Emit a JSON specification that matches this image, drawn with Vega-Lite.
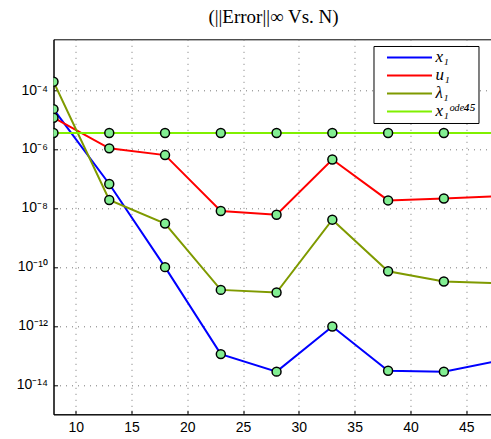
{
  "$schema": "https://vega.github.io/schema/vega-lite/v6.json",
  "autosize": "none",
  "width": 440,
  "height": 375,
  "padding": {"left": 53.5, "top": 39.3, "right": 0, "bottom": 25},
  "background": "white",
  "title": {
    "text": "(||Error||∞ Vs. N)",
    "font": "Liberation Serif",
    "fontSize": 19,
    "fontWeight": "normal",
    "color": "black",
    "anchor": "middle",
    "offset": 12
  },
  "config": {
    "view": {"stroke": "black", "strokeWidth": 1},
    "axis": {
      "domainColor": "black",
      "domainWidth": 1,
      "tickColor": "black",
      "tickSize": -4,
      "labelColor": "black",
      "labelFont": "Liberation Sans",
      "labelFontSize": 14,
      "grid": true,
      "gridColor": "#777",
      "gridDash": [1, 5],
      "gridWidth": 1,
      "title": null
    }
  },
  "data": {
    "values": [
      {"N": 8, "series": "x1", "err": 2.24e-5},
      {"N": 13, "series": "x1", "err": 6.5e-8},
      {"N": 18, "series": "x1", "err": 9.8e-11},
      {"N": 23, "series": "x1", "err": 1.1e-13},
      {"N": 28, "series": "x1", "err": 2.8e-14},
      {"N": 33, "series": "x1", "err": 9.5e-13},
      {"N": 38, "series": "x1", "err": 3.0e-14},
      {"N": 43, "series": "x1", "err": 2.8e-14},
      {"N": 48, "series": "x1", "err": 6.6e-14},
      {"N": 8, "series": "u1", "err": 1.15e-5},
      {"N": 13, "series": "u1", "err": 1.05e-6},
      {"N": 18, "series": "u1", "err": 6.2e-7},
      {"N": 23, "series": "u1", "err": 7.9e-9},
      {"N": 28, "series": "u1", "err": 5.9e-9},
      {"N": 33, "series": "u1", "err": 4.4e-7},
      {"N": 38, "series": "u1", "err": 1.8e-8},
      {"N": 43, "series": "u1", "err": 2.1e-8},
      {"N": 48, "series": "u1", "err": 2.5e-8},
      {"N": 8, "series": "lambda1", "err": 1.9e-4},
      {"N": 13, "series": "lambda1", "err": 1.86e-8},
      {"N": 18, "series": "lambda1", "err": 2.95e-9},
      {"N": 23, "series": "lambda1", "err": 1.66e-11},
      {"N": 28, "series": "lambda1", "err": 1.35e-11},
      {"N": 33, "series": "lambda1", "err": 4.0e-9},
      {"N": 38, "series": "lambda1", "err": 7.1e-11},
      {"N": 43, "series": "lambda1", "err": 3.2e-11},
      {"N": 48, "series": "lambda1", "err": 2.75e-11},
      {"N": 8, "series": "ode45", "err": 3.47e-6},
      {"N": 13, "series": "ode45", "err": 3.47e-6},
      {"N": 18, "series": "ode45", "err": 3.47e-6},
      {"N": 23, "series": "ode45", "err": 3.47e-6},
      {"N": 28, "series": "ode45", "err": 3.47e-6},
      {"N": 33, "series": "ode45", "err": 3.47e-6},
      {"N": 38, "series": "ode45", "err": 3.47e-6},
      {"N": 43, "series": "ode45", "err": 3.47e-6},
      {"N": 48, "series": "ode45", "err": 3.47e-6}
    ]
  },
  "encoding": {
    "x": {
      "field": "N",
      "type": "quantitative",
      "scale": {"domain": [8, 47.45], "nice": false, "zero": false},
      "axis": {"values": [10, 15, 20, 25, 30, 35, 40, 45], "labelPadding": 10}
    },
    "y": {
      "field": "err",
      "type": "quantitative",
      "scale": {"type": "log", "domain": [1e-15, 0.00525], "nice": false},
      "axis": {
        "values": [1e-14, 1e-12, 1e-10, 1e-8, 1e-6, 1e-4],
        "labelPadding": 10,
        "labelExpr": "datum.value > 5e-5 ? '10⁻⁴' : datum.value > 5e-7 ? '10⁻⁶' : datum.value > 5e-9 ? '10⁻⁸' : datum.value > 5e-11 ? '10⁻¹⁰' : datum.value > 5e-13 ? '10⁻¹²' : '10⁻¹⁴'"
      }
    }
  },
  "layer": [
    {
      "mark": {"type": "line", "strokeWidth": 2, "clip": true},
      "encoding": {
        "color": {
          "field": "series",
          "type": "nominal",
          "scale": {
            "domain": ["x1", "u1", "lambda1", "ode45"],
            "range": ["#0000ff", "#ff0000", "#7f9a00", "#80f000"]
          },
          "legend": {
            "title": null,
            "orient": "none",
            "legendX": 320,
            "legendY": 6.7,
            "direction": "vertical",
            "strokeColor": "black",
            "fillColor": "white",
            "padding": 3,
            "rowPadding": 0,
            "symbolType": "M0,0H10",
            "symbolSize": 81,
            "symbolStrokeWidth": 2,
            "symbolOffset": 2,
            "labelOffset": 40,
            "labelAlign": "left",
            "labelFont": "Liberation Serif",
            "labelFontStyle": "italic",
            "labelFontSize": 17,
            "labelColor": "black",
            "labelExpr": "datum.label == 'x1' ? 'x₁' : datum.label == 'u1' ? 'u₁' : datum.label == 'lambda1' ? 'λ₁' : 'x₁ᵒᵈᵉ⁴⁵'"
          }
        }
      }
    },
    {
      "mark": {
        "type": "point",
        "shape": "circle",
        "filled": true,
        "fill": "#82ee92",
        "stroke": "black",
        "strokeWidth": 1.5,
        "size": 80,
        "opacity": 1,
        "clip": true
      },
      "encoding": {"detail": {"field": "series"}}
    }
  ]
}
